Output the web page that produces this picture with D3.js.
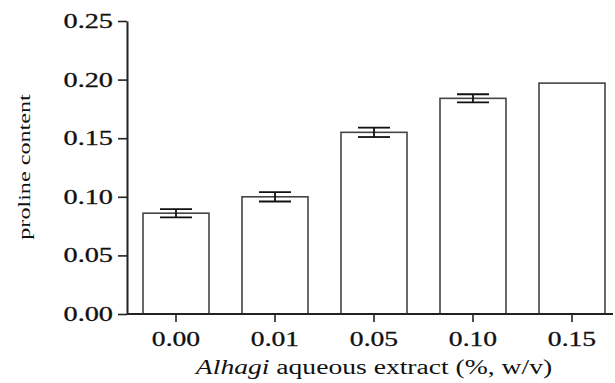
<!DOCTYPE html>
<html>
<head>
<meta charset="utf-8">
<script src="https://cdn.jsdelivr.net/npm/d3@7"></script>
<style>
  body { margin: 0; background: #fff; }
  text { font-family: "Liberation Serif", "Times New Roman", serif; fill: #111; }
</style>
</head>
<body>
<script>
var categories = ["0.00", "0.01", "0.05", "0.10", "0.15"];
var means = [0.086, 0.100, 0.155, 0.184, 0.197];
var errors = [0.0035, 0.004, 0.004, 0.0035, 0];
var yTicks = [0, 0.05, 0.10, 0.15, 0.20, 0.25];

var svgWidth = 615;
var svgHeight = 383;
var stretch = 1.38;

var x0 = 127, x1 = 621, axisEnd = 613;
var yTop = 21, yBottom = 314;

var svg = d3.select("body")
  .append("svg")
  .attr("width", svgWidth)
  .attr("height", svgHeight);

var xScale = d3.scaleBand()
  .domain(categories)
  .range([x0, x1])
  .paddingInner(1 / 3)
  .paddingOuter(0.1616);

var yScale = d3.scaleLinear()
  .domain([0, 0.25])
  .range([yBottom, yTop]);

// bars
svg.selectAll(".bar")
  .data(means)
  .enter()
  .append("rect")
  .attr("class", "bar")
  .attr("x", function(d, i) { return xScale(categories[i]); })
  .attr("y", function(d) { return yScale(d); })
  .attr("width", xScale.bandwidth())
  .attr("height", function(d) { return yScale(0) - yScale(d); })
  .style("fill", "#fff")
  .style("stroke", "#444")
  .style("stroke-width", 1.6);

// error bars
var capHalf = 16;
var err = svg.selectAll(".err")
  .data(means.map(function(d, i) { return { m: d, e: errors[i], c: categories[i] }; })
    .filter(function(d) { return d.e > 0; }))
  .enter()
  .append("g")
  .attr("class", "err")
  .style("stroke", "#111")
  .style("stroke-width", 1.8);

err.append("line")
  .attr("x1", function(d) { return xScale(d.c) + xScale.bandwidth() / 2; })
  .attr("x2", function(d) { return xScale(d.c) + xScale.bandwidth() / 2; })
  .attr("y1", function(d) { return yScale(d.m + d.e); })
  .attr("y2", function(d) { return yScale(d.m - d.e); });

[1, -1].forEach(function(s) {
  err.append("line")
    .attr("x1", function(d) { return xScale(d.c) + xScale.bandwidth() / 2 - capHalf; })
    .attr("x2", function(d) { return xScale(d.c) + xScale.bandwidth() / 2 + capHalf; })
    .attr("y1", function(d) { return yScale(d.m + s * d.e); })
    .attr("y2", function(d) { return yScale(d.m + s * d.e); });
});

// x axis
var xAxis = svg.append("g")
  .attr("transform", "translate(0," + yBottom + ")")
  .call(d3.axisBottom(xScale).tickSize(8).tickPadding(10).tickSizeOuter(0));
xAxis.select(".domain").remove();
xAxis.append("line")
  .attr("x1", x0).attr("x2", axisEnd)
  .attr("stroke", "#222").attr("stroke-width", 2);
xAxis.selectAll(".tick line").attr("stroke", "#222").attr("stroke-width", 1.6);
xAxis.selectAll("text")
  .style("font-size", "20px")
  .style("stroke", "#111")
  .style("stroke-width", 0.3)
  .attr("transform", "scale(" + stretch + ",1)");

// y axis
var yAxis = svg.append("g")
  .attr("transform", "translate(" + x0 + ",0)")
  .call(d3.axisLeft(yScale).tickValues(yTicks).tickFormat(d3.format(".2f"))
    .tickSize(9).tickPadding(5).tickSizeOuter(0));
yAxis.select(".domain").attr("stroke", "#222").attr("stroke-width", 2);
yAxis.selectAll(".tick line").attr("stroke", "#222").attr("stroke-width", 1.6);
yAxis.selectAll("text")
  .style("font-size", "20.5px")
  .style("stroke", "#111")
  .style("stroke-width", 0.3)
  .attr("x", -14 / stretch)
  .attr("transform", "scale(" + stretch + ",1)");

// axis titles
var xTitle = svg.append("text")
  .attr("transform", "translate(374,374) scale(" + stretch + ",1)")
  .attr("text-anchor", "middle")
  .style("font-size", "20px");
xTitle.append("tspan").style("font-style", "italic").text("Alhagi");
xTitle.append("tspan").text(" aqueous extract (%, w/v)");

svg.append("text")
  .attr("transform", "translate(30,167) rotate(-90) scale(" + stretch + ",1)")
  .attr("text-anchor", "middle")
  .style("font-size", "17.5px")
  .text("proline content");
</script>
</body>
</html>
